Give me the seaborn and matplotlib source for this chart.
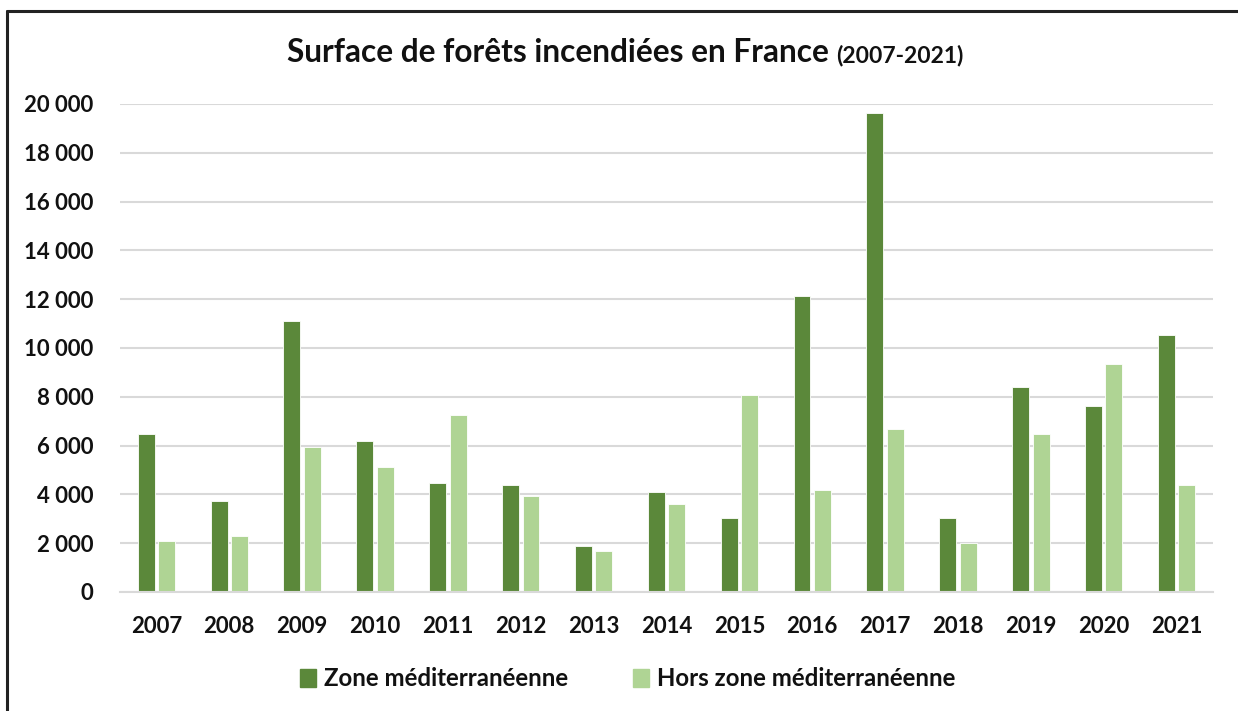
import matplotlib
matplotlib.use("Agg")
import matplotlib.pyplot as plt
from matplotlib.lines import Line2D
from matplotlib.ticker import FuncFormatter, MultipleLocator
import seaborn as sns
import pandas as pd

years = ["2007", "2008", "2009", "2010", "2011", "2012", "2013", "2014",
         "2015", "2016", "2017", "2018", "2019", "2020", "2021"]
zone_med = [6480, 3740, 11100, 6180, 4460, 4370, 1890, 4100,
            3040, 12130, 19640, 3040, 8420, 7640, 10550]
hors_zone = [2090, 2300, 5930, 5140, 7240, 3930, 1680, 3610,
             8080, 4200, 6670, 2000, 6480, 9330, 4380]
series_names = ["Zone méditerranéenne", "Hors zone méditerranéenne"]
colors = ["#5B883A", "#AFD494"]

df = pd.DataFrame({
    "Année": years * 2,
    "Surface": zone_med + hors_zone,
    "Zone": [series_names[0]] * len(years) + [series_names[1]] * len(years),
})

sns.set_theme(style="white")
plt.rcParams["font.family"] = ["Lato", "DejaVu Sans"]

fig = plt.figure(figsize=(12.38, 7.11), dpi=100)
ax = fig.add_axes([120 / 1238, 1 - 592 / 711, (1213 - 120) / 1238, (592 - 104) / 711])

sns.barplot(data=df, x="Année", y="Surface", hue="Zone", order=years,
            hue_order=series_names, palette=colors, saturation=1, width=0.56, gap=0.17,
            edgecolor="white", linewidth=0.6, ax=ax, legend=False, errorbar=None)

ax.set_xlim(-0.5, len(years) - 0.5)
ax.set_ylim(0, 20000)
ax.yaxis.set_major_locator(MultipleLocator(2000))
ax.yaxis.set_major_formatter(FuncFormatter(lambda v, p: f"{int(v):,}".replace(",", " ")))
ax.grid(axis="y", color="#D9D9D9", linewidth=1.5)
ax.set_axisbelow(True)
for s in ["left", "right", "top"]:
    ax.spines[s].set_visible(False)
ax.spines["bottom"].set_color("#D9D9D9")
ax.spines["bottom"].set_linewidth(1.5)
ax.set_xlabel("")
ax.set_ylabel("")

ax.set_xticks([i - 0.5 for i in range(len(years) + 1)], minor=True)
ax.tick_params(axis="x", which="minor", length=5.5, width=1.3, color="#D9D9D9", direction="out")
ax.tick_params(axis="x", which="major", length=0, pad=17, labelsize=16)
ax.tick_params(axis="y", which="major", length=0, pad=19, labelsize=16)
for lab in ax.get_xticklabels() + ax.get_yticklabels():
    lab.set_fontweight("bold")
    lab.set_color("#111111")

# Title in two parts
fig.text(829 / 1238, 1 - 53 / 711, "Surface de forêts incendiées en France",
         ha="right", va="center", fontsize=22.8, fontweight="bold", color="#111111")
fig.text(836 / 1238, 1 - 55 / 711, "(2007-2021)",
         ha="left", va="center", fontsize=16.5, fontweight="bold", color="#111111")

handles = [plt.Rectangle((0, 0), 1, 1, color=c) for c in colors]
leg = fig.legend(handles, series_names, loc="center", bbox_to_anchor=(628 / 1238, 1 - 679 / 711),
                 ncol=2, frameon=False, prop={"size": 17.3, "weight": "bold"},
                 handlelength=0.65, handleheight=0.8, handletextpad=0.35, columnspacing=2.7)
for t in leg.get_texts():
    t.set_color("#111111")

# Outer border (top and left)
fig.add_artist(Line2D([7 / 1238, 1.0], [1 - 11 / 711, 1 - 11 / 711], transform=fig.transFigure,
                      color="#222222", linewidth=2.2))
fig.add_artist(Line2D([7 / 1238, 7 / 1238], [0, 1 - 11 / 711], transform=fig.transFigure,
                      color="#222222", linewidth=2.2))

fig.savefig("out.png", dpi=100)
